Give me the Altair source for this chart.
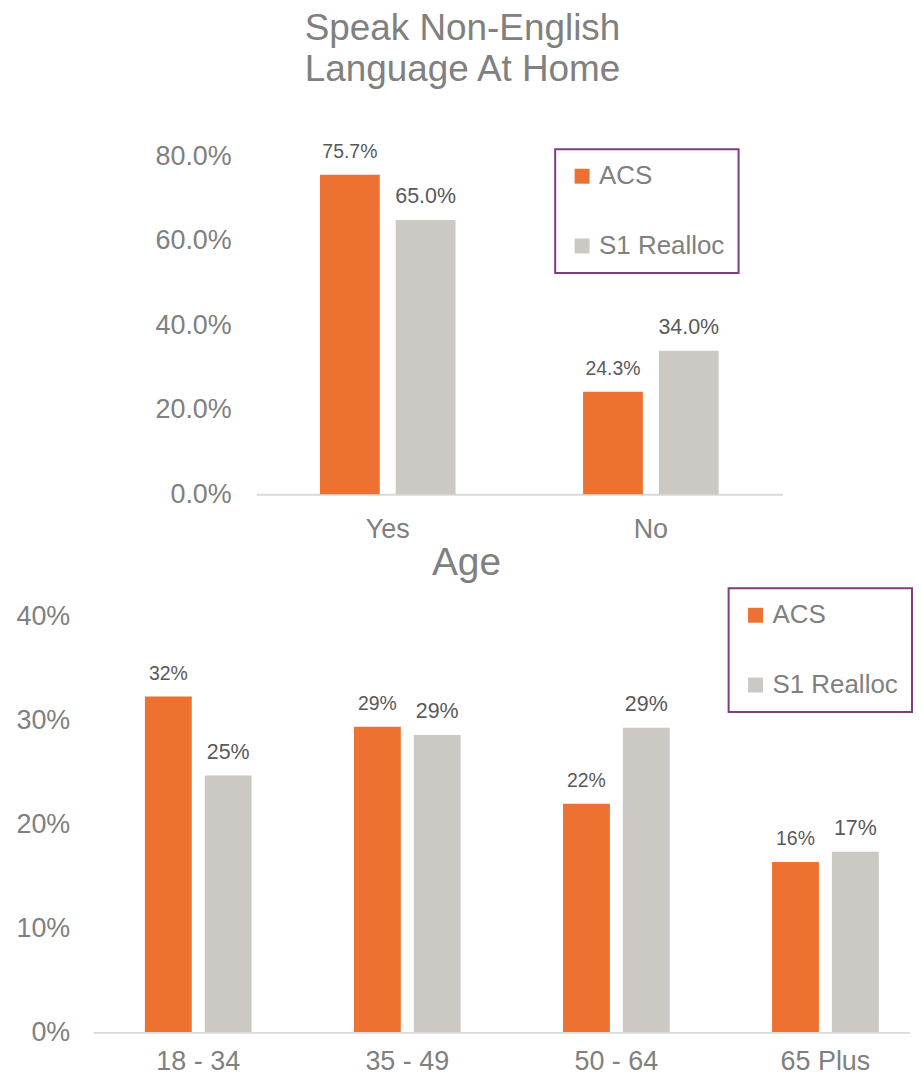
import altair as alt
import pandas as pd

# ---------------- data ----------------
series = ["ACS", "S1 Realloc"]
colors = ["#ED7131", "#CCC8C4"]

lang_categories = ["Yes", "No"]
lang_acs = [0.757, 0.243]
lang_s1 = [0.650, 0.340]
lang_ticks = [0.0, 0.2, 0.4, 0.6, 0.8]

age_categories = ["18 - 34", "35 - 49", "50 - 64", "65 Plus"]
age_acs = [0.323, 0.294, 0.220, 0.164]
age_s1 = [0.247, 0.286, 0.293, 0.174]
age_ticks = [0.0, 0.1, 0.2, 0.3, 0.4]


def frame(cats, a, b):
    rows = []
    for c, va, vb in zip(cats, a, b):
        rows.append({"category": c, "series": series[0], "value": va})
        rows.append({"category": c, "series": series[1], "value": vb})
    return pd.DataFrame(rows)


lang_df = frame(lang_categories, lang_acs, lang_s1)
age_df = frame(age_categories, age_acs, age_s1)

FONT = "Liberation Sans"
AXIS_GRAY = "#808080"
LABEL_GRAY = "#595959"
LINE_GRAY = "#D9D9D9"

color_scale = alt.Scale(domain=series, range=colors)
label_size = alt.condition(alt.datum.series == series[0], alt.value(19.5), alt.value(21.5))


def legend(x, y):
    return alt.Legend(
        title=None, orient="none", legendX=x, legendY=y,
        symbolType="square", symbolSize=225, symbolStrokeWidth=0,
        labelFontSize=26, labelColor=AXIS_GRAY, labelFont=FONT,
        padding=14, rowPadding=44, labelOffset=4,
        strokeColor="#7B3F7E", fillColor="white",
    )


# ---------------- top chart ----------------
x_top = alt.X(
    "category:N", sort=lang_categories,
    scale=alt.Scale(range=[242, 770], paddingInner=0, paddingOuter=0),
    axis=alt.Axis(title=None, labelAngle=0, labelFontSize=27, labelColor=AXIS_GRAY,
                  labelFont=FONT, labelPadding=22, ticks=False, tickSize=0,
                  domainColor=LINE_GRAY, domainWidth=2, grid=False),
)
xo_top = alt.XOffset("series:N", sort=series,
                     scale=alt.Scale(paddingInner=0.2105, paddingOuter=0.842))
y_top = alt.Y(
    "value:Q", scale=alt.Scale(domain=[0, 0.9], nice=False, zero=True),
    axis=alt.Axis(title=None, values=lang_ticks, format=".1%", offset=-242,
                  labelPadding=25, ticks=False, tickSize=0, domain=False, grid=False,
                  labelFontSize=27, labelColor=AXIS_GRAY, labelFont=FONT, minExtent=0),
)
top_base = alt.Chart(lang_df)
top_bars = top_base.mark_bar().encode(
    x=x_top, xOffset=xo_top, y=y_top,
    color=alt.Color("series:N", scale=color_scale, sort=series, legend=legend(542, 35)),
)
top_text = top_base.mark_text(baseline="alphabetic", dy=-17, color=LABEL_GRAY, font=FONT).encode(
    x=x_top, xOffset=xo_top, y=y_top,
    text=alt.Text("value:Q", format=".1%"),
    size=label_size,
)
top = alt.layer(top_bars, top_text).properties(
    width=898, height=381,
    title=alt.TitleParams(["Speak Non-English", "Language At Home"], fontSize=37, lineHeight=41,
                          font=FONT, color=AXIS_GRAY, fontWeight="normal", anchor="middle",
                          frame="group", baseline="bottom", offset=29, dx=0, dy=40.2),
)

# ---------------- bottom chart ----------------
x_bot = alt.X(
    "category:N", sort=age_categories,
    scale=alt.Scale(range=[79, 918], paddingInner=0, paddingOuter=0),
    axis=None,
)
xo_bot = alt.XOffset("series:N", sort=series,
                     scale=alt.Scale(paddingInner=0.2167, paddingOuter=0.856))
y_bot = alt.Y(
    "value:Q", scale=alt.Scale(domain=[0, 0.4], nice=False, zero=True),
    axis=alt.Axis(title=None, values=age_ticks, format=".0%", offset=-79,
                  labelPadding=24, ticks=False, tickSize=0, domain=False, grid=False,
                  labelFontSize=27, labelColor=AXIS_GRAY, labelFont=FONT, minExtent=0),
)
bot_base = alt.Chart(age_df)
bot_bars = bot_base.mark_bar().encode(
    x=x_bot, xOffset=xo_bot, y=y_bot,
    color=alt.Color("series:N", scale=color_scale, sort=series, legend=legend(716, -28)),
)
bot_text = bot_base.mark_text(baseline="alphabetic", dy=-17, color=LABEL_GRAY, font=FONT).encode(
    x=x_bot, xOffset=xo_bot, y=y_bot,
    text=alt.Text("value:Q", format=".0%"),
    size=label_size,
)
bot_cats = bot_base.transform_filter(alt.datum.series == series[0]).mark_text(
    baseline="alphabetic", font=FONT, fontSize=27, color=AXIS_GRAY
).encode(x=x_bot, y=alt.value(418 + 37), text="category:N")
bot_rule = alt.Chart(pd.DataFrame({"v": [0]})).mark_rule(color=LINE_GRAY, strokeWidth=2).encode(
    x=alt.value(79), x2=alt.value(898), y=alt.value(418)
)
bottom = alt.layer(bot_bars, bot_text, bot_cats, bot_rule).properties(
    width=898, height=418,
    title=alt.TitleParams("Age", fontSize=39, font=FONT, color=AXIS_GRAY, fontWeight="normal",
                          anchor="middle", frame="group", baseline="alphabetic", offset=8.5,
                          dx=4, dy=35.5),
)

chart = (
    alt.vconcat(top, bottom, spacing=2.5)
    .resolve_scale(color="independent", x="independent", y="independent",
                   xOffset="independent")
    .resolve_legend(color="independent")
    .properties(padding={"left": 7, "top": 0, "right": 0, "bottom": -1}, background="white")
    .configure_view(strokeWidth=0)
    .configure_legend(strokeWidth=2)
)

chart.save("out.html", embed_options={"renderer": "svg", "actions": False})
